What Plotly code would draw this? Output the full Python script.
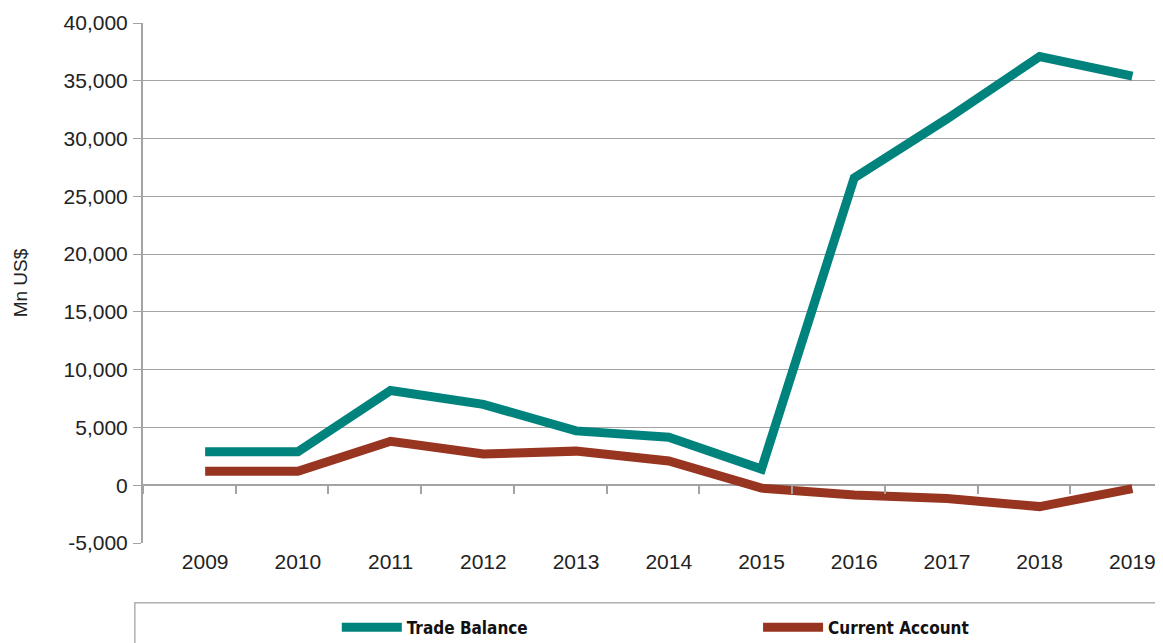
import plotly.graph_objects as go

# Dados (Mn US$)
years = [2009, 2010, 2011, 2012, 2013, 2014, 2015, 2016, 2017, 2018, 2019]
trade_balance = [2900, 2900, 8200, 7000, 4700, 4150, 1400, 26600, 31700, 37100, 35400]
current_account = [1200, 1200, 3800, 2700, 2950, 2100, -250, -850, -1150, -1850, -300]

y_ticks = [-5000, 0, 5000, 10000, 15000, 20000, 25000, 30000, 35000, 40000]

teal = '#00827D'
brown = '#983521'
grid = '#a3a3a3'
tick_offset = 0.67  # tick marks sit between the years

fig = go.Figure()

fig.add_trace(go.Scatter(x=years, y=trade_balance, mode='lines', name='Trade Balance',
                         line=dict(color=teal, width=9), legend='legend'))
fig.add_trace(go.Scatter(x=years, y=current_account, mode='lines', name='Current Account',
                         line=dict(color=brown, width=9), legend='legend2'))

# eixo auxiliar so para os tracinhos sobre a linha do zero
fig.add_trace(go.Scatter(x=[years[0]], y=[None], xaxis='x2', showlegend=False, hoverinfo='skip'))

x_range = [years[0] - tick_offset, years[-1] + 1 - tick_offset]
y_range = [y_ticks[0], y_ticks[-1]]
zero_pos = (0 - y_range[0]) / (y_range[1] - y_range[0])

# moldura da legenda
fig.add_shape(type='rect', xref='paper', yref='paper', x0=-0.008, x1=1.2, y0=-0.115, y1=-0.5,
              line=dict(color='#b0b0b0', width=1.5), fillcolor='rgba(0,0,0,0)', layer='below')

legend_style = dict(
    orientation='h',
    xanchor='left',
    y=-0.163,
    yanchor='middle',
    itemwidth=60,
    font=dict(family='Liberation Sans Narrow, DejaVu Sans Condensed, Roboto Condensed, sans-serif',
              size=17, weight='bold', color='#111111'),
    bgcolor='rgba(0,0,0,0)',
)

# a pagina tem 8px de margem no body: figura deslocada 8px e um pouco mais alta
# (o excesso embaixo fica fora da janela, e a legenda nao empurra a margem)
fig.update_layout(
    width=1155,
    height=660,
    margin=dict(l=135, r=0, t=15, b=125),
    plot_bgcolor='white',
    paper_bgcolor='white',
    font=dict(family='Liberation Sans, Arial, sans-serif', size=21, color='#222222'),
    xaxis=dict(
        range=x_range,
        tickvals=years,
        ticks='',
        showgrid=False,
        zeroline=False,
        showline=False,
        ticklabelstandoff=4,
        automargin=False,
    ),
    xaxis2=dict(
        overlaying='x',
        anchor='free',
        position=zero_pos,
        side='bottom',
        range=x_range,
        tickvals=[y - tick_offset for y in years] + [years[-1] + 1 - tick_offset],
        ticks='outside',
        ticklen=8,
        tickwidth=2,
        tickcolor=grid,
        showticklabels=False,
        showgrid=False,
        zeroline=False,
        showline=False,
        automargin=False,
    ),
    yaxis=dict(
        range=y_range,
        tickvals=y_ticks,
        ticktext=[f'{v:,}' for v in y_ticks],
        showgrid=True,
        gridcolor=grid,
        gridwidth=1.3,
        zeroline=True,
        zerolinecolor=grid,
        zerolinewidth=2,
        showline=True,
        linecolor=grid,
        linewidth=2,
        ticks='outside',
        ticklen=8,
        tickwidth=1.3,
        tickcolor=grid,
        ticklabelstandoff=1,
        automargin=False,
        title=dict(text='Mn US$', font=dict(size=19), standoff=31),
    ),
    legend=dict(x=0.19, **legend_style),
    legend2=dict(x=0.603, **legend_style),
    showlegend=True,
)

fig.write_html('out.html')
